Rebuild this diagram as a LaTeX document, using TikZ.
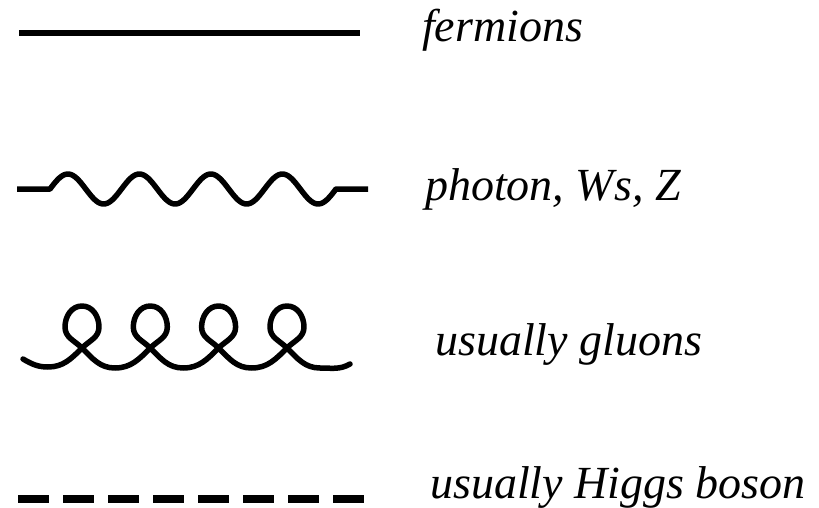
\documentclass[tikz,border=0pt]{standalone}
\usepackage{fontspec}
\setmainfont{Liberation Serif}
\usetikzlibrary{positioning}
\tikzset{
  fermion/.style={line width=5.5pt},
  photon/.style={line width=5.5pt, line join=round},
  gluon/.style={line width=5.5pt, line cap=round, line join=round},
  higgs/.style={line width=8.5pt, dash pattern=on 31pt off 14pt},
  legendtext/.style={anchor=base west, inner sep=0pt, font=\fontsize{46}{52}\selectfont\itshape}
}

\begin{document}
\begin{tikzpicture}[x=1pt, y=1pt]
\useasboundingbox (0,0) rectangle (819,507);
\coordinate (fe-l) at (19,474);
\coordinate (fe-r) at (360,474);
\coordinate (ph-l) at (17,318);
\coordinate (ph-r) at (368,318);
\coordinate (gl-l) at (23,148);
\coordinate (gl-r) at (350,143);
\coordinate (hi-l) at (18,8);
\coordinate (hi-r) at (364,8);
\draw[fermion] (fe-l) -- (fe-r);
\draw[photon] (ph-l) -- (50,318) -- plot[domain=50:336, samples=150] (\x, {318+15*sin(5.035*(\x-50))}) -- (ph-r);
\draw[gluon] (gl-l) to[out=-30,in=180] (48,140)
  foreach \c in {82,150.3,218.6,287} {
    to[out=0,in=225] (\c,159) to[out=45,in=-90] ({\c+17},180) to[out=90,in=0] (\c,201)
    to[out=180,in=90] ({\c-17},180) to[out=-90,in=135] (\c,159) to[out=-45,in=180] ({\c+33},139)
  } to[out=0,in=210] (gl-r);
\draw[higgs] (hi-l) -- (hi-r);
\node[legendtext] (fermions) at (422,465) {fermions};
\node[legendtext] (photons) at (425,307) {photon, Ws, Z};
\node[legendtext] (gluons) at (435,152) {usually gluons};
\node[legendtext] (higgs) at (430,9) {usually Higgs boson};
\end{tikzpicture}
\end{document}
